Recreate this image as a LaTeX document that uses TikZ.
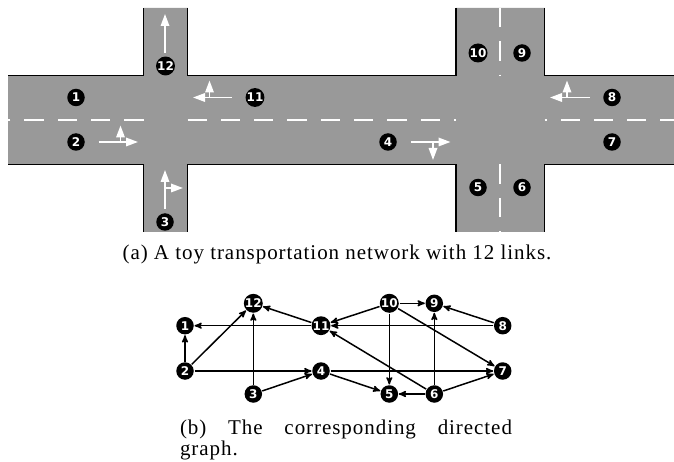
\documentclass[tikz,border=0pt]{standalone}
\usepackage{fontspec}
\newfontfamily\numfont{DejaVu Sans}
\setmainfont[LetterSpace=4.5]{Liberation Serif}
\usetikzlibrary{arrows,arrows.meta}
\definecolor{roadgray}{RGB}{153,153,153}

\begin{document}
\begin{tikzpicture}[->,>=stealth',auto,x=1pt,y=-1pt,line width=1.5pt,
    num/.style={fill=black, circle, inner sep=0pt, minimum size=17.5pt, text=white, font=\numfont\bfseries\fontsize{12}{12}\selectfont},
    curb/.style={-, black, line width=1.5pt},
    lane/.style={-, white, line width=1.5pt, dash pattern=on 19.3pt off 14pt},
    turn/.style={-{Triangle[length=12pt,width=8.5pt]}, white, line width=1.7pt},
    captext/.style={inner sep=0pt, font=\fontsize{21}{21}\selectfont}]
  \useasboundingbox (0,0) rectangle (674,462);
  % road
  \fill [roadgray] (8,75.5) -- (143.5,75.5) -- (143.5,8) -- (187.5,8) -- (187.5,75.5)
    -- (456,75.5) -- (456,8) -- (544.5,8) -- (544.5,75.5) -- (674,75.5) -- (674,164.5)
    -- (544.5,164.5) -- (544.5,232) -- (456,232) -- (456,164.5) -- (187.5,164.5)
    -- (187.5,232) -- (143.5,232) -- (143.5,164.5) -- (8,164.5) -- cycle;
  \draw [curb] (8,75.5) -- (143.5,75.5) -- (143.5,8);
  \draw [curb] (187.5,8) -- (187.5,75.5) -- (456,75.5) -- (456,8);
  \draw [curb] (544.5,8) -- (544.5,75.5) -- (674,75.5);
  \draw [curb] (8,164.5) -- (143.5,164.5) -- (143.5,232);
  \draw [curb] (187.5,232) -- (187.5,164.5) -- (456,164.5) -- (456,232);
  \draw [curb] (544.5,232) -- (544.5,164.5) -- (674,164.5);
  \draw [lane] (143.5,120) -- (8,120);
  \draw [lane] (187.5,120) -- (456,120);
  \draw [lane, dash phase=17.3pt] (544.5,120) -- (674,120);
  \draw [lane] (500,8) -- (500,76);
  \draw [lane] (500,164.5) -- (500,232);
  % turning arrows
  \draw [turn] (165,53) -- (165,14);
  \draw [turn] (165,209) -- (165,170);
  \draw [turn] (165,188) -- (183,188);
  \draw [turn] (98.5,142) -- (138,142);
  \draw [turn] (120.5,142) -- (120.5,125.5);
  \draw [turn] (232,97.5) -- (193,97.5);
  \draw [turn] (209.5,97.5) -- (209.5,80.5);
  \draw [turn] (411,142) -- (450.5,142);
  \draw [turn] (433,142) -- (433,160);
  \draw [turn] (590,97.5) -- (550,97.5);
  \draw [turn] (567,97.5) -- (567,80.5);
  % link numbers on the road
  \node (r1)  [num] at (76,97.5)  {1};
  \node (r2)  [num] at (76,142)   {2};
  \node (r3)  [num] at (165,222)  {3};
  \node (r4)  [num] at (388,142)  {4};
  \node (r5)  [num] at (478,187.5) {5};
  \node (r6)  [num] at (522,187.5) {6};
  \node (r7)  [num] at (612,142)  {7};
  \node (r8)  [num] at (612,97.5) {8};
  \node (r9)  [num] at (522,53)   {9};
  \node (r10) [num] at (478,53)   {10};
  \node (r11) [num] at (255,97.5) {11};
  \node (r12) [num] at (165.5,66) {12};
  \node (capa) [captext] at (337,254) {(a) A toy transportation network with 12 links.};
  % directed graph
  \node (g1)  [num] at (185,325.7)   {1};
  \node (g2)  [num] at (185,371)     {2};
  \node (g3)  [num] at (253.3,394)   {3};
  \node (g4)  [num] at (321,371)     {4};
  \node (g5)  [num] at (389.3,394)   {5};
  \node (g6)  [num] at (434.3,394)   {6};
  \node (g7)  [num] at (502.7,371)   {7};
  \node (g8)  [num] at (502.7,325.7) {8};
  \node (g9)  [num] at (434.3,303.3) {9};
  \node (g10) [num] at (389.3,303.3) {10};
  \node (g11) [num] at (321,325.7)   {11};
  \node (g12) [num] at (253.3,303.3) {12};
  \path (g2) edge (g1)
             edge (g12)
             edge (g4)
        (g3) edge (g12)
             edge (g4)
        (g4) edge (g7)
             edge (g5)
        (g6) edge (g5)
             edge (g7)
             edge (g9)
             edge (g11)
        (g8) edge (g9)
             edge (g11)
        (g10) edge (g9)
             edge (g5)
             edge (g7)
             edge (g11)
        (g11) edge (g12)
             edge (g1);
  \node (capb) [captext, text width=332pt, align=justify] at (346,440) {(b) The corresponding directed graph.};
\end{tikzpicture}
\end{document}
